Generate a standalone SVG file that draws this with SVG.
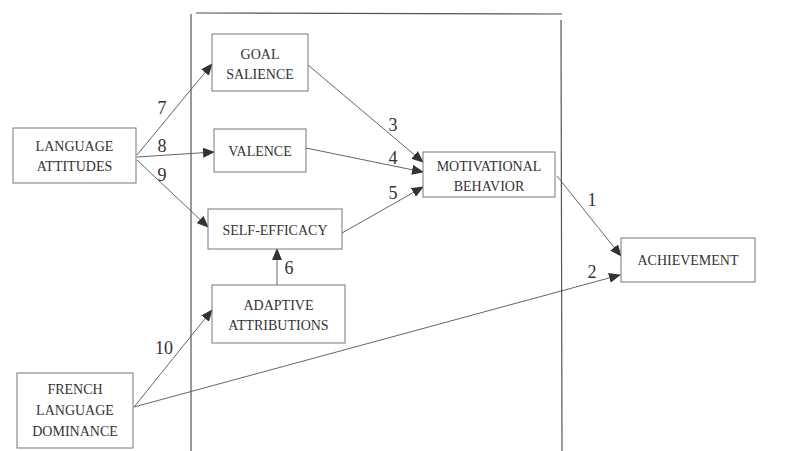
<svg xmlns="http://www.w3.org/2000/svg" width="786" height="451" viewBox="0 0 786 451">
<style>
.box{fill:#fff;stroke:#777;stroke-width:1}
.t{font-family:'Liberation Serif','Times New Roman','DejaVu Serif',serif;font-size:14px;fill:#333;text-anchor:middle}
.n{font-family:'Liberation Serif','Times New Roman','DejaVu Serif',serif;font-size:18px;fill:#333;text-anchor:middle}
.c{stroke:#666;stroke-width:1;fill:none;marker-end:url(#ah)}
.f{stroke:#555;stroke-width:1.2;fill:none}
</style>
<defs>
<marker id="ah" markerWidth="12" markerHeight="10" refX="11" refY="5" orient="auto" markerUnits="userSpaceOnUse">
<path d="M0,0 L12,5 L0,10 Z" fill="#333"/>
</marker>
</defs>
<rect width="786" height="451" fill="#fff"/>
<g id="frame">
<line class="f" x1="191" y1="14" x2="191" y2="451"/>
<line class="f" x1="196" y1="13" x2="562" y2="14" stroke-width="0.8"/>
<line class="f" x1="561" y1="20" x2="562" y2="451"/>
</g>
<g id="connectors">
<line class="c" x1="137" y1="155" x2="212" y2="64"/>
<line class="c" x1="137" y1="157" x2="214" y2="152"/>
<line class="c" x1="137" y1="160" x2="208" y2="227"/>
<line class="c" x1="308" y1="65" x2="423" y2="162"/>
<line class="c" x1="306" y1="148" x2="423" y2="172"/>
<line class="c" x1="342" y1="233" x2="423" y2="187"/>
<line class="c" x1="277" y1="285" x2="277" y2="249"/>
<line class="c" x1="557" y1="176" x2="621" y2="256"/>
<line class="c" x1="134" y1="407" x2="620" y2="275"/>
<line class="c" x1="134" y1="407" x2="212" y2="310"/>
</g>
<g id="labels">
<text class="n" x="162" y="114">7</text>
<text class="n" x="162" y="152">8</text>
<text class="n" x="162" y="181">9</text>
<text class="n" x="393" y="131">3</text>
<text class="n" x="393" y="164">4</text>
<text class="n" x="393" y="199">5</text>
<text class="n" x="289" y="274">6</text>
<text class="n" x="592" y="206">1</text>
<text class="n" x="592" y="278">2</text>
<text class="n" x="164" y="354">10</text>
</g>
<g id="language-attitudes">
<rect class="box" x="13" y="128" width="123" height="55"/>
<text class="t" x="74.5" y="151">LANGUAGE</text>
<text class="t" x="74.5" y="171">ATTITUDES</text>
</g>
<g id="goal-salience">
<rect class="box" x="212" y="34" width="96" height="57"/>
<text class="t" x="260" y="59">GOAL</text>
<text class="t" x="260" y="79">SALIENCE</text>
</g>
<g id="valence">
<rect class="box" x="214" y="129" width="92" height="43"/>
<text class="t" x="260" y="156">VALENCE</text>
</g>
<g id="self-efficacy">
<rect class="box" x="208" y="209" width="134" height="40"/>
<text class="t" x="275" y="235">SELF-EFFICACY</text>
</g>
<g id="adaptive-attributions">
<rect class="box" x="212" y="285" width="133" height="58"/>
<text class="t" x="278.5" y="310">ADAPTIVE</text>
<text class="t" x="278.5" y="330">ATTRIBUTIONS</text>
</g>
<g id="french-language-dominance">
<rect class="box" x="17" y="373" width="116" height="75"/>
<text class="t" x="75" y="394">FRENCH</text>
<text class="t" x="75" y="415">LANGUAGE</text>
<text class="t" x="75" y="436">DOMINANCE</text>
</g>
<g id="motivational-behavior">
<rect class="box" x="423" y="152" width="132" height="45"/>
<text class="t" x="489" y="171">MOTIVATIONAL</text>
<text class="t" x="489" y="191">BEHAVIOR</text>
</g>
<g id="achievement">
<rect class="box" x="621" y="238" width="134" height="44"/>
<text class="t" x="688" y="265">ACHIEVEMENT</text>
</g>
</svg>
